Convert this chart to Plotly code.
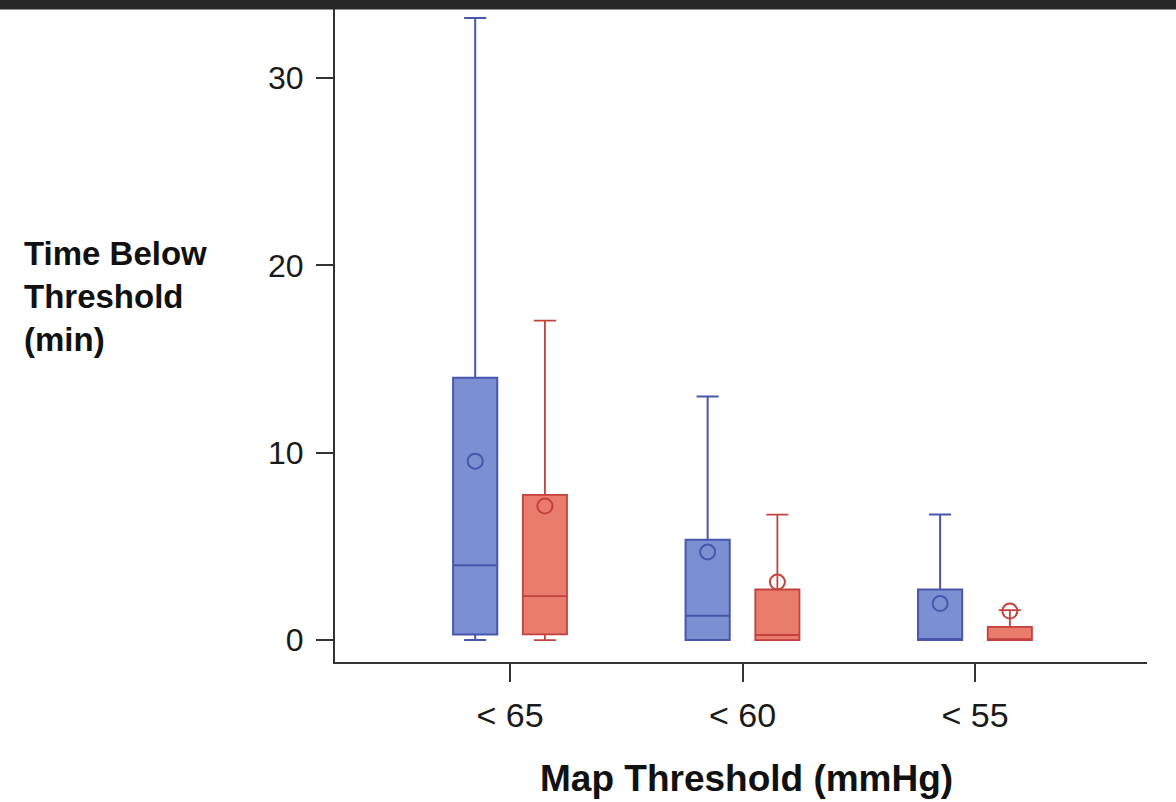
import plotly.graph_objects as go

categories = ["< 65", "< 60", "< 55"]
cat_index = [0, 1, 2]

# Group A (blue)
a_lower = [0.0, 0.0, 0.0]
a_q1 = [0.3, 0.0, 0.0]
a_median = [4.0, 1.3, 0.0]
a_q3 = [14.0, 5.35, 2.7]
a_upper = [33.2, 13.0, 6.7]
a_mean = [9.55, 4.7, 1.95]

# Group B (red)
b_lower = [0.0, 0.0, 0.0]
b_q1 = [0.3, 0.0, 0.0]
b_median = [2.35, 0.27, 0.0]
b_q3 = [7.75, 2.7, 0.7]
b_upper = [17.05, 6.7, 1.6]
b_mean = [7.15, 3.1, 1.55]

offset = 0.15
box_w = 0.19

blue_fill = "rgb(123,144,210)"
blue_line = "rgb(72,86,172)"
red_fill = "rgb(233,124,106)"
red_line = "rgb(196,66,62)"

xa = [i - offset for i in cat_index]
xb = [i + offset for i in cat_index]

fig = go.Figure()
fig.add_trace(go.Box(x=xa, q1=a_q1, median=a_median, q3=a_q3,
                     lowerfence=a_lower, upperfence=a_upper,
                     width=box_w, whiskerwidth=0.5,
                     fillcolor=blue_fill, line=dict(color=blue_line, width=2),
                     showlegend=False, hoverinfo="skip"))
fig.add_trace(go.Box(x=xb, q1=b_q1, median=b_median, q3=b_q3,
                     lowerfence=b_lower, upperfence=b_upper,
                     width=box_w, whiskerwidth=0.5,
                     fillcolor=red_fill, line=dict(color=red_line, width=1.8),
                     showlegend=False, hoverinfo="skip"))
fig.add_trace(go.Scatter(x=xa, y=a_mean, mode="markers",
                         marker=dict(symbol="circle-open", size=15,
                                     color=blue_line, line=dict(width=2)),
                         showlegend=False, hoverinfo="skip"))
fig.add_trace(go.Scatter(x=xb, y=b_mean, mode="markers",
                         marker=dict(symbol="circle-open", size=15,
                                     color=red_line, line=dict(width=2)),
                         showlegend=False, hoverinfo="skip"))

W, H = 1176, 802
ml, mr, mt, mb = 335, 29, 0, 140
pw = W - ml - mr
ph = H - mt - mb

fig.update_layout(
    width=W, height=H,
    margin=dict(l=ml, r=mr, t=mt, b=mb),
    paper_bgcolor="white", plot_bgcolor="white",
    boxmode="overlay",
    font=dict(family="Liberation Sans, Arial, sans-serif", color="#1a1a1a"),
    xaxis=dict(range=[-0.753, 2.74], tickmode="array", tickvals=cat_index,
               ticktext=categories, showline=True, linecolor="#333333",
               linewidth=2, ticks="outside", ticklen=18, tickwidth=2,
               tickcolor="#333333", showgrid=False, zeroline=False,
               tickfont=dict(size=34), ticklabelstandoff=4),
    yaxis=dict(range=[-1.17, 34.16], tickvals=[0, 10, 20, 30],
               showline=True, linecolor="#333333", linewidth=2,
               ticks="outside", ticklen=17, tickwidth=2, tickcolor="#333333",
               showgrid=False, zeroline=False, tickfont=dict(size=32),
               ticklabelstandoff=6),
    annotations=[
        dict(text="<b>Time Below<br>Threshold<br>(min)</b>", xref="paper",
             yref="paper", x=(22 - ml) / pw, y=(ph - 296) / ph,
             xanchor="left", yanchor="middle", align="left",
             showarrow=False, font=dict(size=33, color="#111111")),
        dict(text="<b>Map Threshold (mmHg)</b>", xref="paper", yref="paper",
             x=(746 - ml) / pw, y=(ph - 778) / ph, xanchor="center",
             yanchor="middle", showarrow=False,
             font=dict(size=37, color="#111111")),
    ],
    shapes=[
        dict(type="rect", xref="paper", yref="paper",
             x0=-ml / pw, x1=(W - ml) / pw, y0=(ph - 9.5) / ph, y1=1.0,
             fillcolor="#262626", line=dict(width=0), layer="above"),
    ],
)

fig.write_html("out.html",
               config={"displayModeBar": False},
               post_script="document.body.style.margin='0';"
                           "document.body.style.overflow='hidden';")
